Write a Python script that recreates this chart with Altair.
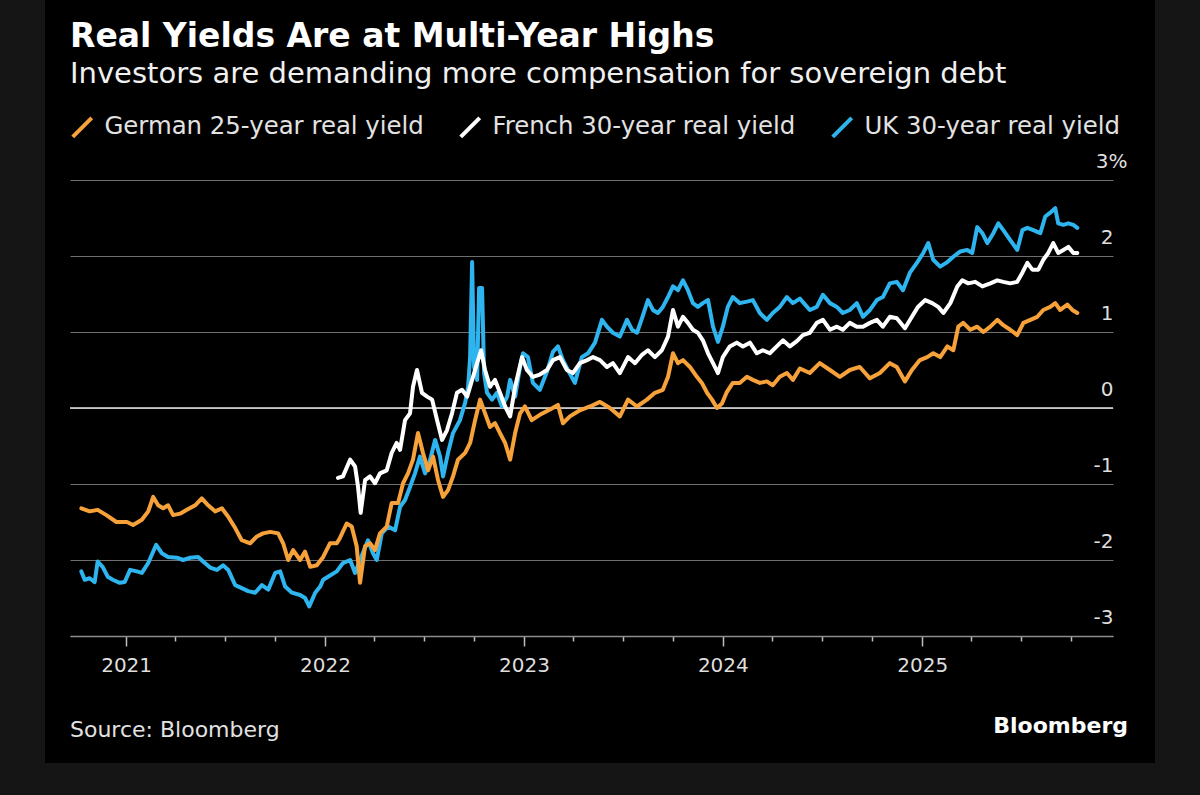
import altair as alt
import pandas as pd

# ---------------- data ----------------
series_names = ["German 25-year real yield", "French 30-year real yield", "UK 30-year real yield"]
series_colors = ["#F7A13A", "#FFFFFF", "#2EB4EE"]

# decimal-year dates and values (%)
de_t = [2020.777, 2020.819, 2020.859, 2020.903, 2020.953, 2021.004, 2021.035, 2021.079, 2021.111, 2021.136,
        2021.161, 2021.186, 2021.211, 2021.236, 2021.271, 2021.305, 2021.347, 2021.380, 2021.412, 2021.447,
        2021.481, 2021.513, 2021.548, 2021.581, 2021.623, 2021.657, 2021.688, 2021.724, 2021.764, 2021.789,
        2021.814, 2021.839, 2021.874, 2021.899, 2021.925, 2021.958, 2021.990, 2022.025, 2022.059, 2022.075,
        2022.109, 2022.134, 2022.159, 2022.176, 2022.201, 2022.226, 2022.251, 2022.276, 2022.310, 2022.335,
        2022.367, 2022.392, 2022.417, 2022.442, 2022.467, 2022.492, 2022.518, 2022.543, 2022.568, 2022.593,
        2022.618, 2022.643, 2022.668, 2022.704, 2022.729, 2022.754, 2022.779, 2022.804, 2022.829, 2022.854,
        2022.879, 2022.905, 2022.930, 2022.955, 2022.980, 2023.005, 2023.039, 2023.080, 2023.131, 2023.171,
        2023.196, 2023.231, 2023.281, 2023.332, 2023.382, 2023.432, 2023.482, 2023.523, 2023.568, 2023.618,
        2023.658, 2023.698, 2023.724, 2023.749, 2023.774, 2023.799, 2023.834, 2023.869, 2023.894, 2023.920,
        2023.945, 2023.970, 2023.995, 2024.020, 2024.050, 2024.085, 2024.121, 2024.151, 2024.186, 2024.221,
        2024.251, 2024.286, 2024.322, 2024.352, 2024.387, 2024.437, 2024.487, 2024.538, 2024.588, 2024.638,
        2024.688, 2024.739, 2024.789, 2024.839, 2024.874, 2024.915, 2024.950, 2024.990, 2025.025, 2025.055,
        2025.090, 2025.126, 2025.156, 2025.181, 2025.206, 2025.241, 2025.276, 2025.307, 2025.342, 2025.377,
        2025.407, 2025.442, 2025.477, 2025.508, 2025.543, 2025.578, 2025.608, 2025.643, 2025.668, 2025.693,
        2025.729, 2025.754, 2025.779]
de_v = [-1.32, -1.36, -1.34, -1.41, -1.50, -1.50, -1.54, -1.47, -1.36, -1.17,
        -1.28, -1.32, -1.28, -1.41, -1.39, -1.34, -1.28, -1.19, -1.28, -1.36,
        -1.32, -1.43, -1.58, -1.74, -1.78, -1.69, -1.65, -1.63, -1.65, -1.78,
        -2.00, -1.87, -2.00, -1.89, -2.09, -2.07, -1.96, -1.78, -1.78, -1.71,
        -1.52, -1.56, -1.82, -2.30, -1.82, -1.78, -1.87, -1.65, -1.56, -1.25,
        -1.25, -0.99, -0.86, -0.68, -0.33, -0.59, -0.82, -0.64, -0.95, -1.17,
        -1.08, -0.90, -0.68, -0.59, -0.46, -0.16, 0.11, -0.07, -0.25, -0.20,
        -0.33, -0.46, -0.68, -0.33, -0.07, 0.02, -0.16, -0.09, -0.02, 0.04,
        -0.20, -0.11, -0.03, 0.02, 0.08, 0.00, -0.11, 0.11, 0.02, 0.11,
        0.20, 0.24, 0.41, 0.72, 0.59, 0.63, 0.54, 0.41, 0.33, 0.20,
        0.11, 0.00, 0.06, 0.21, 0.33, 0.33, 0.41, 0.37, 0.33, 0.35,
        0.30, 0.41, 0.46, 0.37, 0.52, 0.46, 0.59, 0.50, 0.41, 0.50,
        0.54, 0.39, 0.46, 0.59, 0.54, 0.35, 0.50, 0.63, 0.67, 0.72,
        0.67, 0.81, 0.76, 1.07, 1.12, 1.03, 1.07, 1.00, 1.07, 1.16,
        1.09, 1.03, 0.96, 1.12, 1.16, 1.20, 1.29, 1.33, 1.38, 1.29,
        1.36, 1.29, 1.25]

fr_t = [2022.065, 2022.090, 2022.126, 2022.151, 2022.166, 2022.179, 2022.201, 2022.226, 2022.251, 2022.276,
        2022.310, 2022.335, 2022.360, 2022.377, 2022.402, 2022.427, 2022.442, 2022.462, 2022.487, 2022.513,
        2022.538, 2022.563, 2022.588, 2022.613, 2022.638, 2022.663, 2022.688, 2022.714, 2022.739, 2022.764,
        2022.784, 2022.804, 2022.829, 2022.854, 2022.879, 2022.905, 2022.930, 2022.955, 2022.990, 2023.015,
        2023.045, 2023.080, 2023.116, 2023.146, 2023.181, 2023.216, 2023.246, 2023.281, 2023.317, 2023.347,
        2023.382, 2023.417, 2023.447, 2023.482, 2023.523, 2023.558, 2023.593, 2023.623, 2023.658, 2023.693,
        2023.724, 2023.749, 2023.774, 2023.799, 2023.824, 2023.849, 2023.874, 2023.899, 2023.925, 2023.950,
        2023.975, 2024.000, 2024.035, 2024.070, 2024.101, 2024.136, 2024.171, 2024.201, 2024.236, 2024.271,
        2024.302, 2024.337, 2024.372, 2024.402, 2024.437, 2024.472, 2024.503, 2024.538, 2024.573, 2024.603,
        2024.638, 2024.673, 2024.704, 2024.739, 2024.774, 2024.804, 2024.839, 2024.874, 2024.915, 2024.950,
        2024.980, 2025.015, 2025.050, 2025.080, 2025.106, 2025.141, 2025.176, 2025.201, 2025.231, 2025.266,
        2025.302, 2025.342, 2025.377, 2025.407, 2025.442, 2025.477, 2025.503, 2025.528, 2025.553, 2025.583,
        2025.608, 2025.633, 2025.658, 2025.683, 2025.709, 2025.734, 2025.759, 2025.779]
fr_v = [-0.92, -0.90, -0.68, -0.77, -1.04, -1.38, -0.95, -0.90, -0.99, -0.86,
        -0.82, -0.59, -0.46, -0.55, -0.16, -0.07, 0.28, 0.50, 0.20, 0.15,
        0.11, -0.16, -0.42, -0.29, -0.07, 0.20, 0.24, 0.15, 0.37, 0.59,
        0.76, 0.50, 0.28, 0.37, 0.20, 0.02, -0.11, 0.28, 0.67, 0.50,
        0.41, 0.44, 0.50, 0.63, 0.67, 0.50, 0.46, 0.59, 0.63, 0.67,
        0.63, 0.54, 0.59, 0.46, 0.67, 0.59, 0.70, 0.76, 0.67, 0.76,
        0.94, 1.29, 1.07, 1.20, 1.12, 1.03, 0.99, 0.89, 0.72, 0.59,
        0.46, 0.67, 0.81, 0.86, 0.81, 0.86, 0.72, 0.76, 0.72, 0.81,
        0.89, 0.81, 0.88, 0.96, 0.99, 1.12, 1.16, 1.03, 1.07, 1.03,
        1.12, 1.07, 1.07, 1.12, 1.16, 1.07, 1.20, 1.18, 1.05, 1.20,
        1.33, 1.42, 1.38, 1.33, 1.25, 1.38, 1.60, 1.68, 1.64, 1.66,
        1.60, 1.64, 1.68, 1.66, 1.64, 1.66, 1.78, 1.91, 1.82, 1.82,
        1.95, 2.04, 2.17, 2.04, 2.08, 2.12, 2.04, 2.04]

uk_t = [2020.777, 2020.794, 2020.819, 2020.844, 2020.859, 2020.884, 2020.910, 2020.935, 2020.970, 2020.995,
        2021.020, 2021.054, 2021.079, 2021.111, 2021.151, 2021.179, 2021.211, 2021.255, 2021.286, 2021.322,
        2021.362, 2021.387, 2021.422, 2021.456, 2021.487, 2021.513, 2021.548, 2021.581, 2021.613, 2021.648,
        2021.682, 2021.714, 2021.749, 2021.774, 2021.799, 2021.833, 2021.874, 2021.899, 2021.920, 2021.950,
        2021.975, 2021.990, 2022.015, 2022.059, 2022.090, 2022.126, 2022.151, 2022.176, 2022.216, 2022.241,
        2022.260, 2022.285, 2022.317, 2022.352, 2022.377, 2022.402, 2022.427, 2022.452, 2022.477, 2022.503,
        2022.528, 2022.553, 2022.578, 2022.593, 2022.618, 2022.643, 2022.678, 2022.704, 2022.719, 2022.729,
        2022.739, 2022.749, 2022.764, 2022.774, 2022.789, 2022.799, 2022.814, 2022.839, 2022.864, 2022.889,
        2022.915, 2022.930, 2022.955, 2022.980, 2022.995, 2023.020, 2023.045, 2023.080, 2023.116, 2023.146,
        2023.171, 2023.196, 2023.221, 2023.256, 2023.291, 2023.322, 2023.357, 2023.392, 2023.417, 2023.447,
        2023.482, 2023.518, 2023.543, 2023.568, 2023.593, 2023.623, 2023.648, 2023.673, 2023.698, 2023.724,
        2023.749, 2023.774, 2023.799, 2023.824, 2023.849, 2023.874, 2023.899, 2023.925, 2023.950, 2023.975,
        2024.000, 2024.025, 2024.050, 2024.085, 2024.121, 2024.151, 2024.186, 2024.221, 2024.251, 2024.286,
        2024.322, 2024.352, 2024.387, 2024.437, 2024.472, 2024.503, 2024.538, 2024.573, 2024.603, 2024.638,
        2024.673, 2024.704, 2024.739, 2024.774, 2024.804, 2024.839, 2024.874, 2024.905, 2024.940, 2024.975,
        2025.005, 2025.030, 2025.055, 2025.090, 2025.126, 2025.156, 2025.191, 2025.226, 2025.251, 2025.276,
        2025.302, 2025.327, 2025.357, 2025.382, 2025.407, 2025.442, 2025.477, 2025.503, 2025.528, 2025.558,
        2025.593, 2025.618, 2025.643, 2025.668, 2025.683, 2025.709, 2025.734, 2025.759, 2025.779]
uk_v = [-2.15, -2.26, -2.24, -2.29, -2.02, -2.09, -2.22, -2.26, -2.30, -2.29,
        -2.13, -2.15, -2.17, -2.04, -1.80, -1.91, -1.96, -1.97, -2.00, -1.97,
        -1.96, -2.02, -2.10, -2.13, -2.07, -2.13, -2.33, -2.37, -2.41, -2.43,
        -2.33, -2.39, -2.17, -2.15, -2.35, -2.43, -2.46, -2.50, -2.61, -2.43,
        -2.35, -2.26, -2.22, -2.15, -2.04, -2.00, -2.17, -2.00, -1.74, -1.91,
        -2.00, -1.65, -1.56, -1.61, -1.30, -1.21, -1.04, -0.86, -0.64, -0.86,
        -0.68, -0.42, -0.64, -0.90, -0.59, -0.33, -0.16, 0.07, 0.28, 0.67,
        1.92, 0.54, 0.37, 1.58, 1.58, 0.46, 0.20, 0.11, 0.20, 0.02,
        0.15, 0.37, 0.15, 0.54, 0.72, 0.67, 0.33, 0.24, 0.48, 0.74,
        0.81, 0.63, 0.50, 0.33, 0.67, 0.72, 0.86, 1.16, 1.07, 0.99,
        0.94, 1.16, 1.03, 0.99, 1.18, 1.42, 1.29, 1.25, 1.33, 1.46,
        1.60, 1.55, 1.68, 1.55, 1.38, 1.33, 1.38, 1.42, 1.07, 0.87,
        1.07, 1.33, 1.46, 1.38, 1.40, 1.42, 1.25, 1.16, 1.25, 1.33,
        1.46, 1.38, 1.44, 1.29, 1.33, 1.49, 1.38, 1.33, 1.25, 1.29,
        1.38, 1.20, 1.29, 1.42, 1.46, 1.64, 1.66, 1.55, 1.78, 1.91,
        2.04, 2.17, 1.95, 1.86, 1.92, 1.99, 2.06, 2.08, 2.04, 2.38,
        2.30, 2.17, 2.30, 2.43, 2.34, 2.21, 2.08, 2.34, 2.37, 2.34,
        2.30, 2.52, 2.57, 2.63, 2.43, 2.41, 2.43, 2.41, 2.37]

y_ticks = [-3, -2, -1, 0, 1, 2, 3]
x_tick_years = [2021, 2022, 2023, 2024, 2025]
title_text = "Real Yields Are at Multi-Year Highs"
subtitle_text = "Investors are demanding more compensation for sovereign debt"
source_text = "Source: Bloomberg"
logo_text = "Bloomberg"

# ---------------- build table ----------------
def to_ts(y):
    yi = int(y)
    return pd.Timestamp(yi, 1, 1) + pd.Timedelta(days=(y - yi) * 365.25)

rows = []
for name, ts, vs in [(series_names[2], uk_t, uk_v),
                     (series_names[0], de_t, de_v),
                     (series_names[1], fr_t, fr_v)]:
    for t, v in zip(ts, vs):
        rows.append({"series": name, "date": to_ts(t), "value": v})
df = pd.DataFrame(rows)

FONT = "DejaVu Sans"
W, H = 1043, 456

x_values = [alt.DateTime(year=y, month=m, date=1) for y in x_tick_years for m in (1, 4, 7, 10)]
xscale = alt.Scale(domain=[alt.DateTime(year=2020, month=9, date=20),
                           alt.DateTime(year=2025, month=12, date=17)])
yscale = alt.Scale(domain=[-3, 3], nice=False, zero=False)

x_axis = alt.Axis(
    values=x_values, title=None, grid=False,
    labelExpr="month(datum.value) == 0 ? timeFormat(datum.value, '%Y') : ''",
    labelOverlap=False, labelFlush=False,
    labelFont=FONT, labelFontSize=20, labelColor="#dedede", labelPadding=9,
    domainColor="#8c8c8c", domainWidth=1.5,
    tickColor="#bdbdbd", tickWidth=1.5,
    tickSize={"condition": {"test": "month(datum.value) == 0", "value": 10}, "value": 5},
)
y_axis = alt.Axis(
    orient="right", values=y_ticks, title=None, domain=False, ticks=False, tickSize=0,
    grid=True, gridColor="#6e6e6e", gridWidth=1.2,
    labelExpr="datum.value == 3 ? '3%' : '' + datum.value",
    labelAlign="right", labelBaseline="alphabetic", labelOffset=-13,
    labelPadding={"condition": {"test": "datum.value == 3", "value": 14}, "value": 0},
    labelFont=FONT, labelFontSize=20, labelColor="#dedede",
)

color = alt.Color(
    "series:N",
    scale=alt.Scale(domain=series_names, range=series_colors),
    legend=alt.Legend(
        title=None, orient="none", legendX=0, legendY=-65, direction="horizontal",
        symbolType="M-1,1L1,-1", symbolSize=361, symbolStrokeWidth=4,
        labelFont=FONT, labelFontSize=24.4, labelColor="#e2e2e2",
        labelOffset=10, columnPadding=28, labelLimit=0,
    ),
)

zero = alt.Chart(pd.DataFrame({"v": [0]})).mark_rule(color="#e6e6e6", strokeWidth=1.6).encode(
    y=alt.Y("v:Q", scale=yscale, axis=y_axis)
)

def line_layer(name):
    return alt.Chart(df).transform_filter(alt.datum.series == name).mark_line(
        strokeWidth=4, strokeJoin="round", strokeCap="round"
    ).encode(
        x=alt.X("date:T", scale=xscale, axis=x_axis),
        y=alt.Y("value:Q", scale=yscale, axis=y_axis),
        color=color,
    )

def text_layer(txt, x, y, size, weight="normal", align="left", col="#ffffff"):
    return alt.Chart(pd.DataFrame({"t": [txt]})).mark_text(
        align=align, baseline="alphabetic", font=FONT, fontSize=size, fontWeight=weight, color=col
    ).encode(x=alt.value(x), y=alt.value(y), text="t:N")

chart = alt.layer(
    zero,
    line_layer(series_names[2]),
    line_layer(series_names[0]),
    line_layer(series_names[1]),
    text_layer(title_text, 0, -133, 33, weight="bold"),
    text_layer(subtitle_text, 0, -97, 29, col="#f0f0f0"),
    text_layer(source_text, 0, 557, 22, col="#e2e2e2"),
    text_layer(logo_text, 1058, 553, 22, weight="bold", align="right"),
).properties(
    width=W, height=H,
    padding={"left": 25, "top": 180, "right": 42, "bottom": 127},
    autosize=alt.AutoSizeParams(type="none"),
    background="#000000",
).configure_view(stroke=None)

chart.save("out.html", embed_options={
    "renderer": "svg", "actions": False,
    "defaultStyle": "html,body{margin:0;padding:0;background:#151515;} .vega-embed{margin-left:45px;}",
})
